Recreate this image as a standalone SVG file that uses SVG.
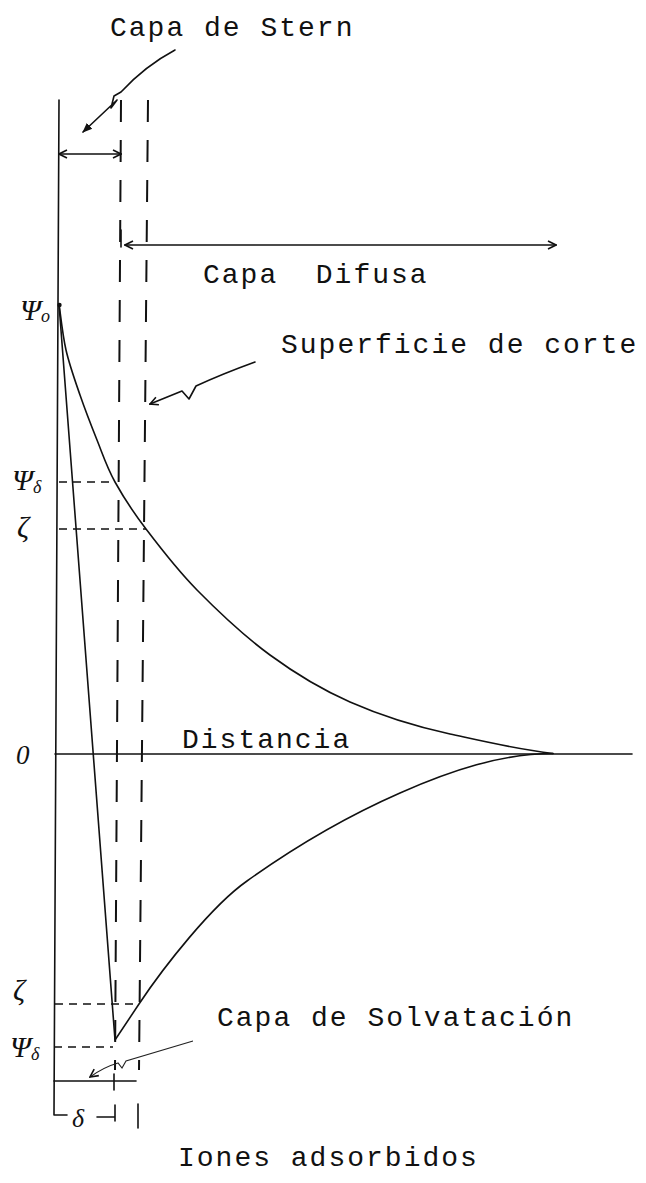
<svg xmlns="http://www.w3.org/2000/svg" width="646" height="1183" viewBox="0 0 646 1183">
<style>
.ln{fill:none;stroke:#111;stroke-width:1.6;stroke-linecap:round;stroke-linejoin:round}
.thin{fill:none;stroke:#222;stroke-width:1.1}
.vd{fill:none;stroke:#111;stroke-width:2;stroke-dasharray:22 18}
.hd{fill:none;stroke:#111;stroke-width:1.4;stroke-dasharray:8 6}
.lbl{font-family:"Liberation Mono",monospace;font-size:28px;letter-spacing:2px;fill:#111}
.gr{font-family:"Liberation Serif",serif;font-style:italic;fill:#111}
</style>
<defs>
<marker id="open" viewBox="0 0 10 10" refX="9" refY="5" markerWidth="10" markerHeight="10" markerUnits="userSpaceOnUse" orient="auto-start-reverse">
<path d="M1,1 L9,5 L1,9" fill="none" stroke="#111" stroke-width="1.6"/>
</marker>
<marker id="fill" viewBox="0 0 10 10" refX="9" refY="5" markerWidth="10" markerHeight="10" markerUnits="userSpaceOnUse" orient="auto">
<path d="M0,1 L10,5 L0,9 Z" fill="#111"/>
</marker>
</defs>
<g id="axes">
<path class="ln" d="M59,100 L54,1115 L67,1115"/>
<path class="ln" d="M55,754 L632,754"/>
<circle cx="59.5" cy="305" r="2.2" fill="#111"/>
</g>
<g id="planes">
<path class="vd" d="M121,100 L115,1070"/>
<path class="vd" d="M148,100 L139,1070"/>
<path class="ln" d="M114,1074 L114,1090"/>
<path class="ln" d="M97,1117 L115,1117 M115,1105 L115,1121"/>
<path class="ln" d="M138,1104 L138,1128"/>
<path class="ln" d="M121,230 L121,247"/>
</g>
<g id="levels">
<path class="hd" d="M59,482 L115,482"/>
<path class="hd" d="M59,529 L146,529"/>
<path class="hd" d="M55,1004 L139,1004"/>
<path class="hd" d="M54,1047 L113,1047"/>
<path class="ln" d="M54,1081 L136,1081"/>
</g>
<g id="curves">
<path class="ln" d="M59,304 C60.2,311.7 62.5,334.8 66,350 C69.5,365.2 74.8,380 80,395 C85.2,410 91.2,425.5 97,440 C102.8,454.5 106.8,467.2 115,482 C123.2,496.8 132.3,511 146,529 C159.7,547 176.3,569 197,590 C217.7,611 244.5,636.3 270,655 C295.5,673.7 320,688.8 350,702 C380,715.2 418,727 450,734 C482,741 515,749 553,753.5"/>
<path class="ln" d="M59,304 L115,1040 L139,1004 C164,966.5 212,905.5 247,881 C298,844.5 349,815.4 400,793 C451,770.6 502,753.5 553,753.5"/>
</g>
<g id="connectors">
<path class="ln" d="M59,154 L121,154" marker-start="url(#open)" marker-end="url(#open)"/>
<path class="ln" d="M125,245 L556,245" marker-start="url(#open)" marker-end="url(#open)"/>
<path class="ln" d="M175,50 Q145,66 121,92 L114,96 L111,108 L117,100 L83,132" marker-end="url(#fill)"/>
<path class="ln" d="M255,362 Q222,374 196,386 L189,399 L182,391 L150,404" marker-end="url(#open)"/>
<path class="thin" d="M193,1041 L126,1061 L122,1068 L118,1063 Q104,1067 90,1077" marker-end="url(#open)"/>
</g>
<g id="labels">
<text class="lbl" x="110" y="36">Capa de Stern</text>
<text class="lbl" x="203" y="283" xml:space="preserve">Capa  Difusa</text>
<text class="lbl" x="281" y="353">Superficie de corte</text>
<text class="lbl" x="182" y="748">Distancia</text>
<text class="lbl" x="217" y="1026">Capa de Solvatación</text>
<text class="lbl" x="178" y="1166">Iones adsorbidos</text>
</g>
<g id="symbols">
<text class="gr" x="20" y="320" font-size="30">Ψ<tspan font-size="18" dy="2">o</tspan></text>
<text class="gr" x="12" y="490" font-size="30">Ψ<tspan font-size="18" dy="3">δ</tspan></text>
<text class="gr" x="17" y="537" font-size="30">ζ</text>
<text class="gr" x="16" y="764" font-size="27">0</text>
<text class="gr" x="13" y="1000" font-size="30">ζ</text>
<text class="gr" x="10" y="1057" font-size="30">Ψ<tspan font-size="18" dy="3">δ</tspan></text>
<text class="gr" x="72" y="1127" font-size="26">δ</text>
</g>
</svg>
